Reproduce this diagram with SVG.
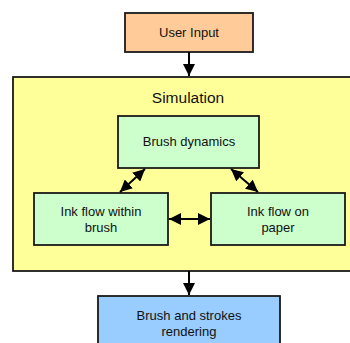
<svg xmlns="http://www.w3.org/2000/svg" width="350" height="343" viewBox="0 0 350 343">
  <style>
    .box { stroke: #1a1a1a; stroke-width: 1.8; }
    .input { fill: #FFCC99; }
    .sim { fill: #FFFF99; }
    .proc { fill: #CCFFCC; }
    .out { fill: #99CCFF; }
    text { font-family: "Liberation Sans", Arial, sans-serif; font-size: 13px; fill: #111; text-anchor: middle; }
    .title { font-size: 15.5px; }
    .edge { stroke: #000; stroke-width: 2; fill: none; }
  </style>
  <defs>
    <marker id="head" markerUnits="userSpaceOnUse" markerWidth="14" markerHeight="12" refX="12" refY="6" orient="auto-start-reverse">
      <path d="M0,0 L12,6 L0,12 Z" fill="#000"/>
    </marker>
  </defs>

  <g id="user-input">
    <rect class="box input" x="125" y="13" width="128" height="39"/>
    <text x="189" y="37">User Input</text>
  </g>

  <g id="simulation">
    <rect class="box sim" x="13" y="77" width="350" height="194"/>
    <text class="title" x="188" y="103">Simulation</text>
  </g>

  <g id="brush-dynamics">
    <rect class="box proc" x="118" y="116" width="141" height="52"/>
    <text x="189" y="146">Brush dynamics</text>
  </g>

  <g id="ink-within-brush">
    <rect class="box proc" x="34" y="193" width="134" height="52"/>
    <text x="101" y="216">Ink flow within</text>
    <text x="101" y="232">brush</text>
  </g>

  <g id="ink-on-paper">
    <rect class="box proc" x="211" y="193" width="134" height="52"/>
    <text x="278" y="216">Ink flow on</text>
    <text x="278" y="232">paper</text>
  </g>

  <g id="rendering">
    <rect class="box out" x="98" y="296" width="182" height="60"/>
    <text x="189" y="320">Brush and strokes</text>
    <text x="189" y="336">rendering</text>
  </g>

  <g id="connectors">
    <line class="edge" x1="189" y1="52" x2="189" y2="76" marker-end="url(#head)"/>
    <line class="edge" x1="189" y1="271" x2="189" y2="295" marker-end="url(#head)"/>
    <line class="edge" x1="145" y1="169" x2="120" y2="192" marker-start="url(#head)" marker-end="url(#head)"/>
    <line class="edge" x1="231" y1="169" x2="258" y2="192" marker-start="url(#head)" marker-end="url(#head)"/>
    <line class="edge" x1="169" y1="219" x2="210" y2="219" marker-start="url(#head)" marker-end="url(#head)"/>
  </g>
</svg>
